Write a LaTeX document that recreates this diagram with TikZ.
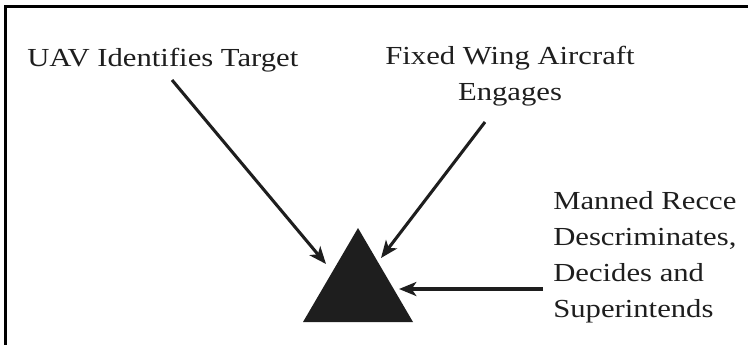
\documentclass[tikz,border=0pt]{standalone}
\usepackage{fontspec}
\setmainfont[FakeStretch=1.18]{Liberation Serif}
\usetikzlibrary{arrows.meta}
\definecolor{ink}{HTML}{1E1E1E}
\tikzset{
  lbl/.style={inner sep=0pt, font=\fontsize{19.5pt}{27pt}\selectfont, text=ink},
  conn/.style={line width=2.3pt, draw=ink, -{Stealth[length=13pt,width=10.5pt,inset=3.5pt]}},
  frame/.style={line width=2.3pt, draw=black}
}
\begin{document}
\begin{tikzpicture}[x=0.75pt,y=-0.75pt]
\useasboundingbox (0,0) rectangle (748,344);
\draw[frame] (5.5,350) -- (5.5,6.5) -- (755,6.5);
% labels
\node[lbl, anchor=base west] (uav) at (27,66) {UAV Identifies Target};
\node[lbl, anchor=base, align=center] (fw) at (510,100) {Fixed Wing Aircraft\\Engages};
\node[lbl, anchor=base west, align=left] (mr) at (553,317) {Manned Recce\\Descriminates,\\Decides and\\Superintends};
% triangle
\coordinate (apex) at (358,228);
\coordinate (bl) at (303,322);
\coordinate (br) at (413,322);
\fill[ink] (apex) -- (bl) -- (br) -- cycle;
% connector ends
\coordinate (s1) at (172,80);
\coordinate (t1) at (326,264);
\coordinate (s2) at (485,122);
\coordinate (t2) at (381,258);
\coordinate (s3) at (543,289);
\coordinate (t3) at (399,289);
\draw[conn] (s1) -- (t1);
\draw[conn] (s2) -- (t2);
\draw[conn] (s3) -- (t3);
\end{tikzpicture}
\end{document}
